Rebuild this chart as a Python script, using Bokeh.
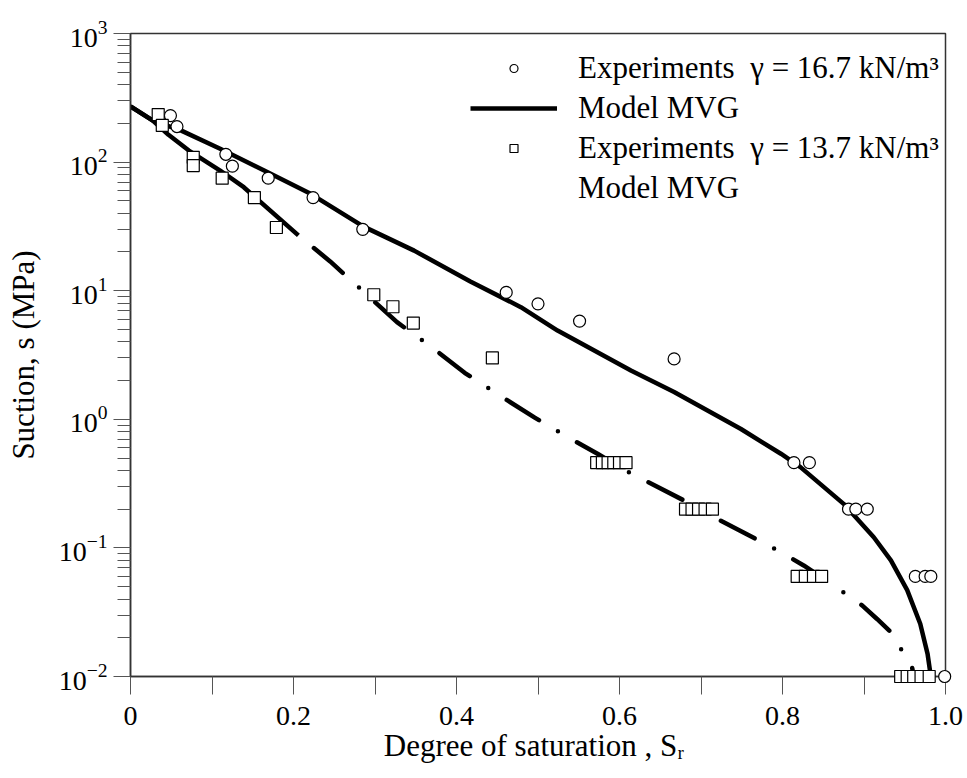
from bokeh.plotting import figure
from bokeh.models import (FixedTicker, LogTickFormatter, Legend, LegendItem,
                          Range1d)
from bokeh.embed import file_html
from bokeh.resources import INLINE

# ---------------- data ----------------
# Experiments, gamma = 16.7 kN/m3 (circles)
exp167_sr = [0.049, 0.057, 0.117, 0.125, 0.169, 0.224, 0.285, 0.461, 0.500,
             0.551, 0.667, 0.814, 0.833, 0.881, 0.890, 0.904, 0.963, 0.975,
             0.982, 0.999]
exp167_s = [230, 189, 115, 93, 75, 53, 30, 9.7, 7.9,
            5.8, 2.95, 0.46, 0.46, 0.20, 0.20, 0.20, 0.060, 0.060,
            0.060, 0.010]

# Experiments, gamma = 13.7 kN/m3 (squares)
exp137_sr = [0.034, 0.039, 0.077, 0.077, 0.1125, 0.152, 0.179, 0.2985, 0.322,
             0.347, 0.444,
             0.572, 0.579, 0.586, 0.593, 0.600, 0.608,
             0.681, 0.689, 0.697, 0.705, 0.714,
             0.818, 0.828, 0.838, 0.848,
             0.945, 0.953, 0.961, 0.970, 0.980]
exp137_s = [234, 193, 109, 94, 75, 53, 31, 9.3, 7.5,
            5.6, 3.0,
            0.46, 0.46, 0.46, 0.46, 0.46, 0.46,
            0.20, 0.20, 0.20, 0.20, 0.20,
            0.060, 0.060, 0.060, 0.060,
            0.010, 0.010, 0.010, 0.010, 0.010]

# Model MVG for 16.7 kN/m3 (solid)
mvg167_sr = [0.0, 0.027, 0.063, 0.110, 0.164, 0.221, 0.286, 0.348, 0.417,
             0.479, 0.524, 0.614, 0.667, 0.749, 0.798, 0.822, 0.875, 0.912,
             0.933, 0.953, 0.969, 0.978, 0.982]
mvg167_s = [271, 211, 175, 127, 86, 56.7, 31.5, 20.5, 11.8,
            7.45, 4.9, 2.4, 1.63, 0.84, 0.54, 0.425, 0.22, 0.121,
            0.080, 0.047, 0.0257, 0.015, 0.010]

# Model MVG for 13.7 kN/m3 (dash-dot)
mvg137_sr = [0.0, 0.027, 0.0466, 0.0716, 0.110, 0.139, 0.206, 0.245, 0.327,
             0.368, 0.410, 0.451, 0.496, 0.540, 0.573, 0.607, 0.679, 0.716,
             0.748, 0.798, 0.826, 0.857, 0.898, 0.916, 0.933, 0.959, 0.961]
mvg137_s = [271, 211, 163, 123, 86, 63.8, 26.9, 16.9, 5.69,
            3.7, 2.3, 1.56, 1.03, 0.705, 0.54, 0.40, 0.234, 0.173,
            0.136, 0.0927, 0.073, 0.054, 0.0356, 0.028, 0.0221, 0.0118, 0.010]
first_dash_end = 7  # the first (long) stroke of the dash-dot curve ends at point index 6

x_ticks = [0.0, 0.2, 0.4, 0.6, 0.8, 1.0]
x_tick_labels = ["0", "0.2", "0.4", "0.6", "0.8", "1.0"]
x_minor = [0.1, 0.3, 0.5, 0.7, 0.9]
y_ticks = [1e-2, 1e-1, 1e0, 1e1, 1e2, 1e3]
y_minor = [m * d for d in [1e-2, 1e-1, 1e0, 1e1, 1e2] for m in range(2, 10)]

legend_labels = ["Experiments  \u03b3 = 16.7 kN/m\u00b3", "Model MVG",
                 "Experiments  \u03b3 = 13.7 kN/m\u00b3", "Model MVG"]

SERIF = "Liberation Serif"
FRAME = "#333333"

# ---------------- figure ----------------
p = figure(width=965, height=776, output_backend="svg", toolbar_location=None,
           x_range=Range1d(0, 1.0), y_range=Range1d(0.01, 1000),
           y_axis_type="log",
           min_border_left=130, min_border_right=20,
           min_border_top=33, min_border_bottom=100)
p.grid.visible = False
p.outline_line_color = FRAME
p.outline_line_width = 1.5
p.background_fill_color = "white"
p.border_fill_color = "white"

# x axis
xa = p.xaxis[0]
xa.ticker = FixedTicker(ticks=x_ticks, minor_ticks=x_minor)
xa.major_label_overrides = {t: l for t, l in zip(x_ticks, x_tick_labels)}
xa.axis_label = "Degree of saturation ,  S\u1d63"
# y axis
ya = p.yaxis[0]
ya.ticker = FixedTicker(ticks=y_ticks, minor_ticks=y_minor)
ya.formatter = LogTickFormatter()
ya.axis_label = "Suction, s (MPa)"

for ax in (xa, ya):
    ax.axis_line_color = FRAME
    ax.axis_line_width = 1.5
    ax.major_tick_line_color = "#555555"
    ax.minor_tick_line_color = "#555555"
    ax.major_tick_in = 0
    ax.minor_tick_in = 0
    ax.major_label_text_font = SERIF
    ax.major_label_text_font_size = "28px"
    ax.major_label_text_color = "black"
    ax.axis_label_text_font = SERIF
    ax.axis_label_text_font_size = "31px"
    ax.axis_label_text_font_style = "normal"
    ax.axis_label_text_color = "black"

xa.major_tick_out = 18
xa.minor_tick_out = 18
xa.major_label_standoff = 12
xa.axis_label_standoff = 0
ya.major_tick_out = 17
ya.minor_tick_out = 13
ya.major_label_standoff = 6
ya.axis_label_standoff = 15

# ---------------- model curves ----------------
r_solid = p.line(mvg167_sr, mvg167_s, line_color="black", line_width=4.5)

p.line(mvg137_sr[:first_dash_end], mvg137_s[:first_dash_end],
       line_color="black", line_width=4.5)
p.line(mvg137_sr[first_dash_end - 1:], mvg137_s[first_dash_end - 1:],
       line_color="black", line_width=4.5, line_dash="38 22 0 22",
       line_cap="round", line_dash_offset=-20)
# legend-only glyph for the dash-dot model
r_dd_leg = p.line([], [], line_color="black", line_width=4.5,
                  line_dash="22 19 0 19", line_cap="butt")

# ---------------- experiments (drawn unclipped, over the frame) ----------------
r_circ = p.scatter(exp167_sr, exp167_s, marker="circle", size=12,
                   fill_color="white", line_color="black", line_width=1.2,
                   level="overlay")
r_sq = p.scatter(exp137_sr, exp137_s, marker="square", size=12,
                 fill_color="white", line_color="black", line_width=1.2,
                 level="overlay")

legend = Legend(items=[
    LegendItem(label=legend_labels[0], renderers=[r_circ]),
    LegendItem(label=legend_labels[1], renderers=[r_solid]),
    LegendItem(label=legend_labels[2], renderers=[r_sq]),
    LegendItem(label=legend_labels[3], renderers=[r_dd_leg]),
], location=(340, 470))
legend.background_fill_alpha = 0
legend.border_line_alpha = 0
legend.label_text_font = SERIF
legend.label_text_font_size = "31px"
legend.label_text_color = "black"
legend.glyph_width = 87
legend.glyph_height = 20
legend.label_standoff = 21
legend.spacing = 4
legend.padding = 0
legend.margin = 0
p.add_layout(legend, "center")

open("out.html", "w").write(file_html(p, INLINE))
